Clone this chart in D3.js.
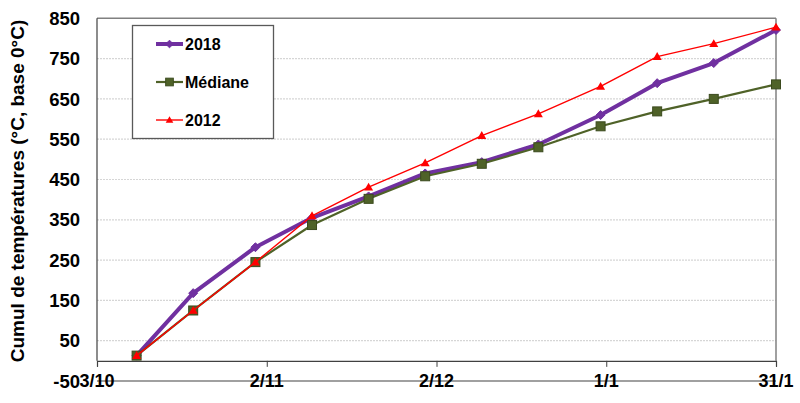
<!DOCTYPE html>
<html>
<head>
<meta charset="utf-8">
<script src="https://cdn.jsdelivr.net/npm/d3@7"></script>
<style>
  html, body { margin: 0; padding: 0; background: #fff; }
  svg { display: block; }
  text { font-family: "Liberation Sans", Arial, sans-serif; font-weight: bold; fill: #000; }
</style>
</head>
<body>
<svg id="chart" width="800" height="403"></svg>
<script>
// ---- Data ----
const dates = ["2017-10-10","2017-10-20","2017-10-31","2017-11-10","2017-11-20","2017-11-30",
               "2017-12-10","2017-12-20","2017-12-31","2018-01-10","2018-01-20","2018-01-31"];
const s2018   = [13, 168, 282, 355, 408, 465, 493, 537, 610, 689, 739, 821];
const mediane = [13, 125, 245, 337, 402, 458, 489, 530, 582, 619, 650, 686];
const s2012   = [13, 125, 245, 360, 431, 491, 559, 613, 681, 755, 787, 828];
const xTickDates = ["2017-10-03","2017-11-02","2017-12-02","2018-01-01","2018-01-31"];
const xTickLabels = ["3/10","2/11","2/12","1/1","31/1"];
const yTicks = [-50, 50, 150, 250, 350, 450, 550, 650, 750, 850];
const seriesNames = ["2018", "Médiane", "2012"];

(function () {
const parse = d3.utcParse("%Y-%m-%d");
const svg = d3.select("#chart");

const pLeft = 97, pRight = 776, pTop = 18.3, pBottom = 381;
const x = d3.scaleUtc()
  .domain([parse(xTickDates[0]), parse(xTickDates[xTickDates.length - 1])])
  .range([pLeft, pRight]);
const y = d3.scaleLinear().domain([-50, 850]).range([pBottom, pTop]);

// gridlines
svg.append("g").selectAll("line")
  .data(yTicks.filter(v => v > -50 && v < 850))
  .join("line")
  .attr("x1", pLeft).attr("x2", pRight)
  .attr("y1", d => y(d)).attr("y2", d => y(d))
  .attr("stroke", "#d6d6d6").attr("stroke-width", 1.2)
  .attr("stroke-dasharray", "2,1");

// borders
svg.append("line").attr("x1", pLeft).attr("x2", pRight).attr("y1", y(850)).attr("y2", y(850))
  .attr("stroke", "#808080").attr("stroke-width", 1.5);
svg.append("line").attr("x1", pRight).attr("x2", pRight).attr("y1", y(850)).attr("y2", y(0))
  .attr("stroke", "#808080").attr("stroke-width", 1.5);
svg.append("line").attr("x1", pLeft).attr("x2", pRight).attr("y1", y(-50)).attr("y2", y(-50))
  .attr("stroke", "#808080").attr("stroke-width", 1.5);

// y axis line
svg.append("line").attr("x1", pLeft).attr("x2", pLeft).attr("y1", y(850)).attr("y2", y(0))
  .attr("stroke", "#404040").attr("stroke-width", 1.2);

// x axis at 0
const xAxis = d3.axisBottom(x)
  .tickValues(xTickDates.map(parse))
  .tickSize(6)
  .tickFormat("");
const gx = svg.append("g").attr("transform", `translate(0,${y(0)})`).call(xAxis);
gx.select(".domain").attr("stroke", "#404040").attr("stroke-width", 1.2);
gx.selectAll(".tick line").attr("stroke", "#404040");

// x labels
svg.append("g").selectAll("text")
  .data(xTickDates.map((d, i) => ({d: parse(d), label: xTickLabels[i]})))
  .join("text")
  .attr("x", d => x(d.d)).attr("y", y(-50))
  .attr("dy", "0.36em")
  .attr("text-anchor", "middle")
  .attr("font-size", 18)
  .text(d => d.label);

// y labels
svg.append("g").selectAll("text")
  .data(yTicks)
  .join("text")
  .attr("x", 80).attr("y", d => y(d))
  .attr("dy", "0.36em")
  .attr("text-anchor", "end")
  .attr("font-size", 18.5)
  .text(d => d);

// y title
svg.append("text")
  .attr("transform", `translate(24,${191}) rotate(-90)`)
  .attr("text-anchor", "middle")
  .attr("font-size", 19)
  .text("Cumul de températures (°C, base 0°C)");

// series
const line = d3.line().x(d => x(d.d)).y(d => y(d.v));
function pts(vals) { return vals.map((v, i) => ({d: parse(dates[i]), v})); }

const styles = [
  {name: seriesNames[0], vals: s2018,   color: "#7030A0", width: 4,   marker: "diamond"},
  {name: seriesNames[1], vals: mediane, color: "#4F6228", width: 2.2, marker: "square"},
  {name: seriesNames[2], vals: s2012,   color: "#FF0000", width: 1.4, marker: "triangle"}
];

function drawMarker(g, type, cx, cy, color, scale) {
  scale = scale || 1;
  const r = 4.5 * scale;
  if (type === "diamond") {
    g.append("path").attr("d", `M${cx},${cy - r}L${cx + r},${cy}L${cx},${cy + r}L${cx - r},${cy}Z`)
      .attr("fill", color).attr("stroke", color);
  } else if (type === "square") {
    g.append("rect").attr("x", cx - r).attr("y", cy - r).attr("width", 2 * r).attr("height", 2 * r)
      .attr("fill", "#4F6228").attr("stroke", "#3B4A1E").attr("stroke-width", 1);
  } else {
    g.append("path").attr("d", `M${cx},${cy - r}L${cx + r},${cy + r * 0.75}L${cx - r},${cy + r * 0.75}Z`)
      .attr("fill", color);
  }
}

styles.forEach(s => {
  const data = pts(s.vals);
  const g = svg.append("g");
  g.append("path").datum(data).attr("d", line)
    .attr("fill", "none").attr("stroke", s.color).attr("stroke-width", s.width)
    .attr("stroke-linejoin", "round");
  data.forEach(p => drawMarker(g, s.marker, x(p.d), y(p.v), s.color, 1));
});

// legend
const lg = svg.append("g");
lg.append("rect").attr("x", 132.5).attr("y", 25.5).attr("width", 141).attr("height", 113)
  .attr("fill", "#fff").attr("stroke", "#595959").attr("stroke-width", 1.3);
const rowsY = [44, 82, 120];
styles.forEach((s, i) => {
  const yy = rowsY[i];
  lg.append("line").attr("x1", 156).attr("x2", 183).attr("y1", yy).attr("y2", yy)
    .attr("stroke", s.color).attr("stroke-width", s.width);
  drawMarker(lg, s.marker, 169.5, yy, s.color, 0.85);
  lg.append("text").attr("x", 185).attr("y", yy).attr("dy", "0.36em")
    .attr("font-size", 16).text(s.name);
});
})();
</script>
</body>
</html>
